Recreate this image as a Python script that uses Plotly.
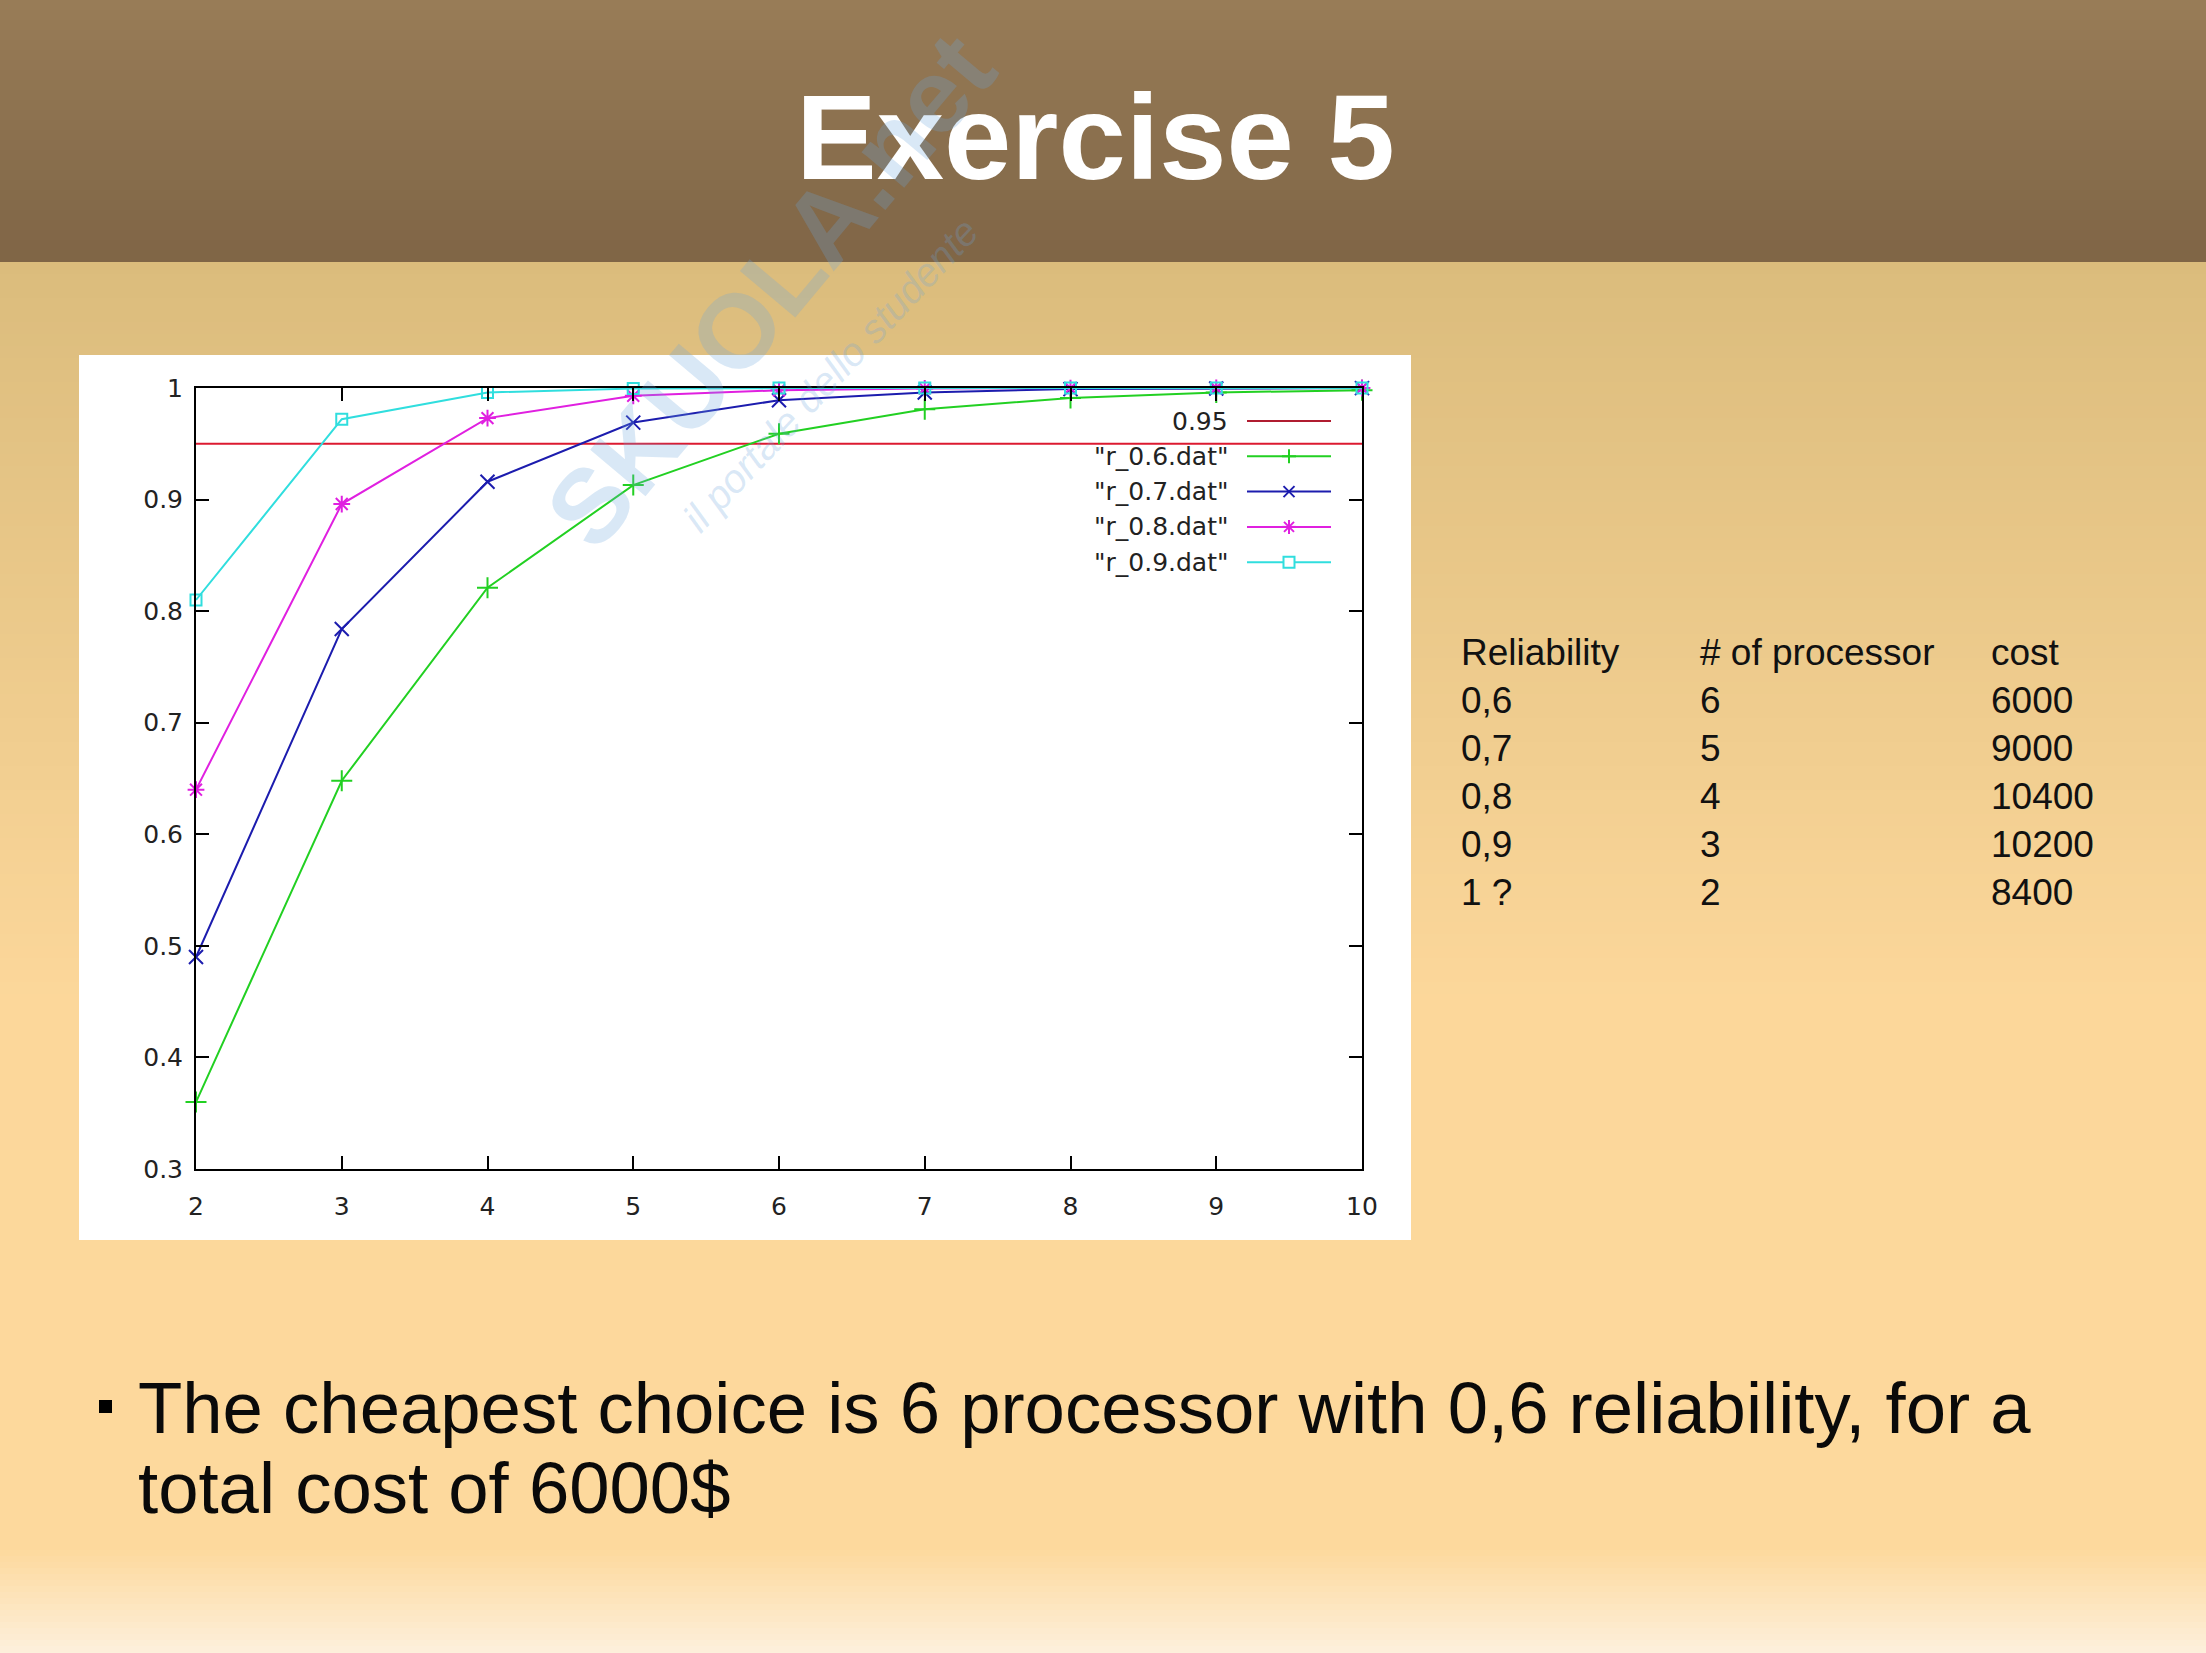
import plotly.graph_objects as go

# ---------------- data ----------------
N_PROC = [2, 3, 4, 5, 6, 7, 8, 9, 10]
THRESHOLD = 0.95
R_06 = [0.360, 0.648, 0.821, 0.913, 0.959, 0.981, 0.991, 0.996, 0.998]
R_07 = [0.490, 0.784, 0.916, 0.969, 0.989, 0.996, 0.999, 0.9996, 0.9999]
R_08 = [0.640, 0.896, 0.973, 0.993, 0.998, 0.9996, 0.9999, 1.0, 1.0]
R_09 = [0.810, 0.972, 0.996, 0.9995, 0.9999, 1.0, 1.0, 1.0, 1.0]
SERIES_NAMES = ['"r_0.6.dat"', '"r_0.7.dat"', '"r_0.8.dat"', '"r_0.9.dat"']
Y_TICKS = [0.3, 0.4, 0.5, 0.6, 0.7, 0.8, 0.9, 1.0]
Y_TICK_LABELS = ["0.3", "0.4", "0.5", "0.6", "0.7", "0.8", "0.9", "1"]

TABLE_HEADER = ["Reliability", "# of processor", "cost"]
TABLE_RELIABILITY = ["0,6", "0,7", "0,8", "0,9", "1 ?"]
TABLE_PROCESSORS = ["6", "5", "4", "3", "2"]
TABLE_COST = ["6000", "9000", "10400", "10200", "8400"]

TITLE = "Exercise 5"
BULLET_LINES = ["The cheapest choice is 6 processor with 0,6 reliability, for a",
                "total cost of 6000$"]

# ---------------- styling ----------------
W, H = 2206, 1653
RED = "#dc1a30"
GREEN = "#22d022"
BLUE = "#1c1cae"
MAGENTA = "#e020e0"
CYAN = "#30dede"
COLORS = [GREEN, BLUE, MAGENTA, CYAN]
SYMBOLS = ["cross-thin-open", "x-thin-open", "asterisk-open", "square-open"]
SIZES = [15, 14, 14, 11]


def px(x):
    return x / W


def py(y):
    return 1 - y / H


def hex2rgb(h):
    h = h.lstrip("#")
    return tuple(int(h[i:i + 2], 16) for i in (0, 2, 4))


def mix(c1, c2, t):
    a, b = hex2rgb(c1), hex2rgb(c2)
    return "rgb(%d,%d,%d)" % tuple(round(a[i] + (b[i] - a[i]) * t) for i in range(3))


shapes = []


def gradient(y0, y1, c0, c1, step=10):
    y = y0
    while y < y1:
        yn = min(y + step, y1)
        t = ((y + yn) / 2 - y0) / (y1 - y0)
        shapes.append(dict(type="rect", xref="paper", yref="paper",
                           x0=0, x1=1, y0=py(yn + 0.5), y1=py(y),
                           fillcolor=mix(c0, c1, t), line=dict(width=0),
                           layer="below"))
        y = yn


# background bands
gradient(0, 262, "#987c57", "#7f6546")
gradient(262, 1000, "#dbbc7c", "#fcd79a", step=12)
gradient(1000, 1550, "#fcd79a", "#fdd99d", step=30)
gradient(1550, 1653, "#fdd99d", "#fdf0dc", step=6)

# white chart box
shapes.append(dict(type="rect", xref="paper", yref="paper",
                   x0=px(79), x1=px(1411), y0=py(1240), y1=py(355),
                   fillcolor="white", line=dict(width=0), layer="below"))

# bullet square
shapes.append(dict(type="rect", xref="paper", yref="paper",
                   x0=px(99), x1=px(112), y0=py(1413), y1=py(1400),
                   fillcolor="black", line=dict(width=0)))

fig = go.Figure()

# threshold line
fig.add_trace(go.Scatter(x=[N_PROC[0], N_PROC[-1]], y=[THRESHOLD, THRESHOLD],
                         mode="lines", line=dict(color=RED, width=2),
                         showlegend=False, hoverinfo="skip", cliponaxis=False))

for vals, name, col, sym, sz in zip([R_06, R_07, R_08, R_09], SERIES_NAMES,
                                    COLORS, SYMBOLS, SIZES):
    fig.add_trace(go.Scatter(
        x=N_PROC, y=vals, mode="lines+markers", name=name,
        line=dict(color=col, width=2),
        marker=dict(symbol=sym, size=sz, color=col,
                    line=dict(color=col, width=2)),
        cliponaxis=False, showlegend=False))

annotations = []

# custom gnuplot-like legend (text left of sample)
LEG_TEXT_X = 1230
LEG_Y0 = 421
LEG_DY = 35.3
SAMPLE_X0, SAMPLE_X1 = 1247, 1331
SAMPLE_XM = (SAMPLE_X0 + SAMPLE_X1) / 2
leg_labels = ["0.95"] + SERIES_NAMES
leg_colors = ["#b01c30"] + COLORS
for i, (lab, col) in enumerate(zip(leg_labels, leg_colors)):
    yy = LEG_Y0 + i * LEG_DY
    annotations.append(dict(text=lab, xref="paper", yref="paper",
                            x=px(LEG_TEXT_X), y=py(yy), xanchor="right",
                            yanchor="middle", showarrow=False,
                            font=dict(family="DejaVu Sans", size=25, color="#222")))
    shapes.append(dict(type="line", xref="paper", yref="paper",
                       x0=px(SAMPLE_X0), x1=px(SAMPLE_X1), y0=py(yy), y1=py(yy),
                       line=dict(color=col, width=2)))
    xm = SAMPLE_XM
    if i == 0:
        continue
    kind = SYMBOLS[i - 1]
    paths = []
    if kind.startswith("cross"):
        r = 7
        paths.append([(xm - r, yy), (xm + r, yy)])
        paths.append([(xm, yy - r), (xm, yy + r)])
    elif kind.startswith("x-"):
        r = 5.5
        paths.append([(xm - r, yy - r), (xm + r, yy + r)])
        paths.append([(xm - r, yy + r), (xm + r, yy - r)])
    elif kind.startswith("asterisk"):
        r = 7
        d = 5
        paths.append([(xm - r, yy), (xm + r, yy)])
        paths.append([(xm, yy - r), (xm, yy + r)])
        paths.append([(xm - d, yy - d), (xm + d, yy + d)])
        paths.append([(xm - d, yy + d), (xm + d, yy - d)])
    for (a, b) in paths:
        shapes.append(dict(type="line", xref="paper", yref="paper",
                           x0=px(a[0]), y0=py(a[1]), x1=px(b[0]), y1=py(b[1]),
                           line=dict(color=col, width=2)))
    if kind.startswith("square"):
        r = 5.5
        shapes.append(dict(type="rect", xref="paper", yref="paper",
                           x0=px(xm - r), x1=px(xm + r), y0=py(yy + r), y1=py(yy - r),
                           fillcolor="white", line=dict(color=col, width=2)))

# title
annotations.append(dict(text="<b>%s</b>" % TITLE, xref="paper", yref="paper",
                        x=px(1095), y=py(137), xanchor="center", yanchor="middle",
                        showarrow=False,
                        font=dict(family="Liberation Sans", size=121, color="white")))

# table
TAB_X = [1459, 1698, 1989]
TAB_Y0 = 652
TAB_DY = 48
cols = [[TABLE_HEADER[0]] + TABLE_RELIABILITY,
        [TABLE_HEADER[1]] + TABLE_PROCESSORS,
        [TABLE_HEADER[2]] + TABLE_COST]
for cx, col in zip(TAB_X, cols):
    for j, txt in enumerate(col):
        annotations.append(dict(text=txt, xref="paper", yref="paper",
                                x=px(cx), y=py(TAB_Y0 + j * TAB_DY),
                                xanchor="left", yanchor="middle", showarrow=False,
                                font=dict(family="Liberation Sans", size=37,
                                          color="#111")))

# bullet text
for j, line in enumerate(BULLET_LINES):
    annotations.append(dict(text=line, xref="paper", yref="paper",
                            x=px(136), y=py(1407 + j * 80), xanchor="left",
                            yanchor="middle", showarrow=False,
                            font=dict(family="Liberation Sans", size=72.5,
                                      color="#0a0a0a")))

# watermark
annotations.append(dict(text="<b>SKUOLA.net</b>", xref="paper", yref="paper",
                        x=px(770), y=py(290), xanchor="center", yanchor="middle",
                        showarrow=False, textangle=-50,
                        font=dict(family="Liberation Sans", size=105,
                                  color="rgba(110,165,220,0.26)")))
annotations.append(dict(text="<i>il portale dello studente</i>", xref="paper",
                        yref="paper", x=px(830), y=py(375), xanchor="center",
                        yanchor="middle", showarrow=False, textangle=-47,
                        font=dict(family="Liberation Sans", size=40,
                                  color="rgba(110,165,220,0.26)")))

axis_common = dict(showline=True, linecolor="black", linewidth=2, mirror="ticks",
                   ticks="inside", ticklen=13, tickwidth=2, tickcolor="black",
                   showgrid=False, zeroline=False, automargin=False,
                   tickfont=dict(family="DejaVu Sans", size=25, color="#222"))

fig.update_layout(
    template="none",
    width=W, height=H, autosize=False,
    margin=dict(l=0, r=0, t=0, b=0, pad=0, autoexpand=False),
    paper_bgcolor="#fcd79a", plot_bgcolor="rgba(0,0,0,0)",
    showlegend=False,
    xaxis=dict(domain=[px(196), px(1362)], range=[N_PROC[0], N_PROC[-1]],
               tickvals=N_PROC, ticklabelstandoff=14, **axis_common),
    yaxis=dict(domain=[py(1169), py(388)], range=[Y_TICKS[0], Y_TICKS[-1]],
               tickvals=Y_TICKS, ticktext=Y_TICK_LABELS, ticklabelstandoff=6,
               **axis_common),
    shapes=shapes, annotations=annotations,
)

fig.write_html("out.html", config={"displayModeBar": False},
               post_script="document.body.style.margin='0';"
                           "document.body.style.overflow='hidden';")
